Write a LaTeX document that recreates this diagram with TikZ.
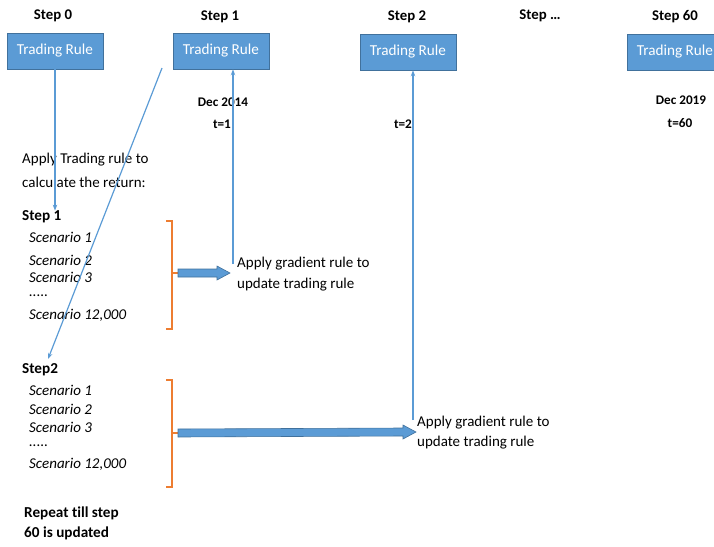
\documentclass[tikz,border=0pt]{standalone}
\usepackage{fontspec}
\setmainfont{Carlito}[Ligatures=CommonOff]
\usetikzlibrary{calc,arrows.meta}
\definecolor{boxblue}{HTML}{5B9BD5}
\definecolor{boxedge}{HTML}{41719C}
\definecolor{linkblue}{HTML}{5B9BD5}
\definecolor{bracketorange}{HTML}{ED7D31}
\tikzset{
  rulebox/.style={draw=boxedge, fill=boxblue, text=white, minimum width=96pt, minimum height=36pt, inner sep=0pt, font=\fontsize{15.2}{17}\selectfont, line width=0.6pt},
  steptitle/.style={font=\bfseries\fontsize{14.8}{17}\selectfont, inner sep=0pt},
  datelabel/.style={font=\bfseries\fontsize{13.2}{15}\selectfont, inner sep=0pt},
  bodytext/.style={anchor=west, inner sep=0pt, font=\fontsize{15}{17}\selectfont},
  boldtext/.style={anchor=west, inner sep=0pt, font=\bfseries\fontsize{15.2}{17}\selectfont},
  scen/.style={anchor=west, inner sep=0pt, font=\itshape\fontsize{15}{17}\selectfont},
  link/.style={draw=linkblue, line width=1.2pt, -{Stealth[length=6pt,width=4.5pt]}},
  brace/.style={draw=bracketorange, line width=1.6pt},
  blockarrow/.style={fill=boxblue, draw=boxedge, line width=0.6pt}
}
\begin{document}
\begin{tikzpicture}[x=1pt,y=-1pt]
\useasboundingbox (0,0) rectangle (714,546);
% top row
\node[rulebox] (b0) at (55,51) {Trading Rule};
\node[rulebox] (b1) at (221,51) {Trading Rule};
\node[rulebox] (b2) at (408,52) {Trading Rule};
\begin{scope}
\clip (0,0) rectangle (714,546);
\node[rulebox] (b60) at (675,52) {Trading Rule};
\end{scope}
\node[steptitle] (t0) at (53,16) {Step 0};
\node[steptitle] (t1) at (220,17) {Step 1};
\node[steptitle] (t2) at (407,17) {Step 2};
\node[steptitle] (tdots) at (540,16) {Step \ldots};
\node[steptitle] (t60) at (675,17) {Step 60};
\node[datelabel] (d1) at (223,102) {Dec 2014};
\node[datelabel] (tt1) at (222,124) {t=1};
\node[datelabel] (tt2) at (403,124) {t=2};
\node[datelabel] (d60) at (681,100) {Dec 2019};
\node[datelabel] (tt60) at (680,123) {t=60};
% left column
\node[bodytext] (ap1) at (22,160) {Apply Trading rule to};
\node[bodytext] (ap2) at (22,182) {calculate the return:};
\node[boldtext] (s1) at (22,217) {Step 1};
\node[scen] (a1) at (29,237) {Scenario 1};
\node[scen] (a2) at (29,260) {Scenario 2};
\node[scen] (a3) at (29,277) {Scenario 3};
\node[scen] (a4) at (29,296) {.....};
\node[scen] (a5) at (29,315) {Scenario 12,000};
\node[boldtext] (s2) at (22,370) {Step2};
\node[scen] (c1) at (29,390) {Scenario 1};
\node[scen] (c2) at (29,409) {Scenario 2};
\node[scen] (c3) at (29,427) {Scenario 3};
\node[scen] (c4) at (29,446) {.....};
\node[scen] (c5) at (29,464) {Scenario 12,000};
\node[boldtext] (r1) at (24,513) {Repeat till step};
\node[boldtext] (r2) at (24,533) {60 is updated};
% gradient texts
\node[bodytext] (g1) at (237,264) {Apply gradient rule to};
\node[bodytext] (g1b) at (237,285) {update trading rule};
\node[bodytext] (g2) at (417,423) {Apply gradient rule to};
\node[bodytext] (g2b) at (417,443) {update trading rule};
% connectors
\draw[link] (b0.south) -- (s1.north -| b0.south);
\coordinate (diagstart) at (162,68);
\coordinate (diagend) at ($(s2.west)+(26,-11)$);
\draw[link] (diagstart) -- (diagend);
\coordinate (v1) at ($(g1.west)+(-4,0)$);
\draw[link] (v1) -- (v1 |- b1.south);
\coordinate (v2) at ($(g2.west)+(-4,-3)$);
\draw[link] (v2) -- (v2 |- b2.south);
% brackets
\draw[brace] (166,221) -- (172,221) -- (172,329) -- (166,329);
\draw[brace] (172,273) -- (178,273) coordinate (k1);
\draw[brace] (166,380) -- (172,380) -- (172,487) -- (166,487);
\draw[brace] (172,433) -- (178,433) coordinate (k2);
% block arrows
\coordinate (p1) at ($(g1.west)+(-7,9)$);
\fill[blockarrow] ($(k1)+(0,-4)$) -- ($(p1)+(-13,-4)$) -- ($(p1)+(-13,-7)$) -- (p1) -- ($(p1)+(-13,7)$) -- ($(p1)+(-13,4)$) -- ($(k1)+(0,4)$) -- cycle;
\coordinate (p2) at ($(g2.west)+(-1,9)$);
\fill[blockarrow] ($(k2)+(0,-4)$) -- ($(p2)+(-13,-4)$) -- ($(p2)+(-13,-7)$) -- (p2) -- ($(p2)+(-13,7)$) -- ($(p2)+(-13,4)$) -- ($(k2)+(0,4)$) -- cycle;
\end{tikzpicture}
\end{document}
